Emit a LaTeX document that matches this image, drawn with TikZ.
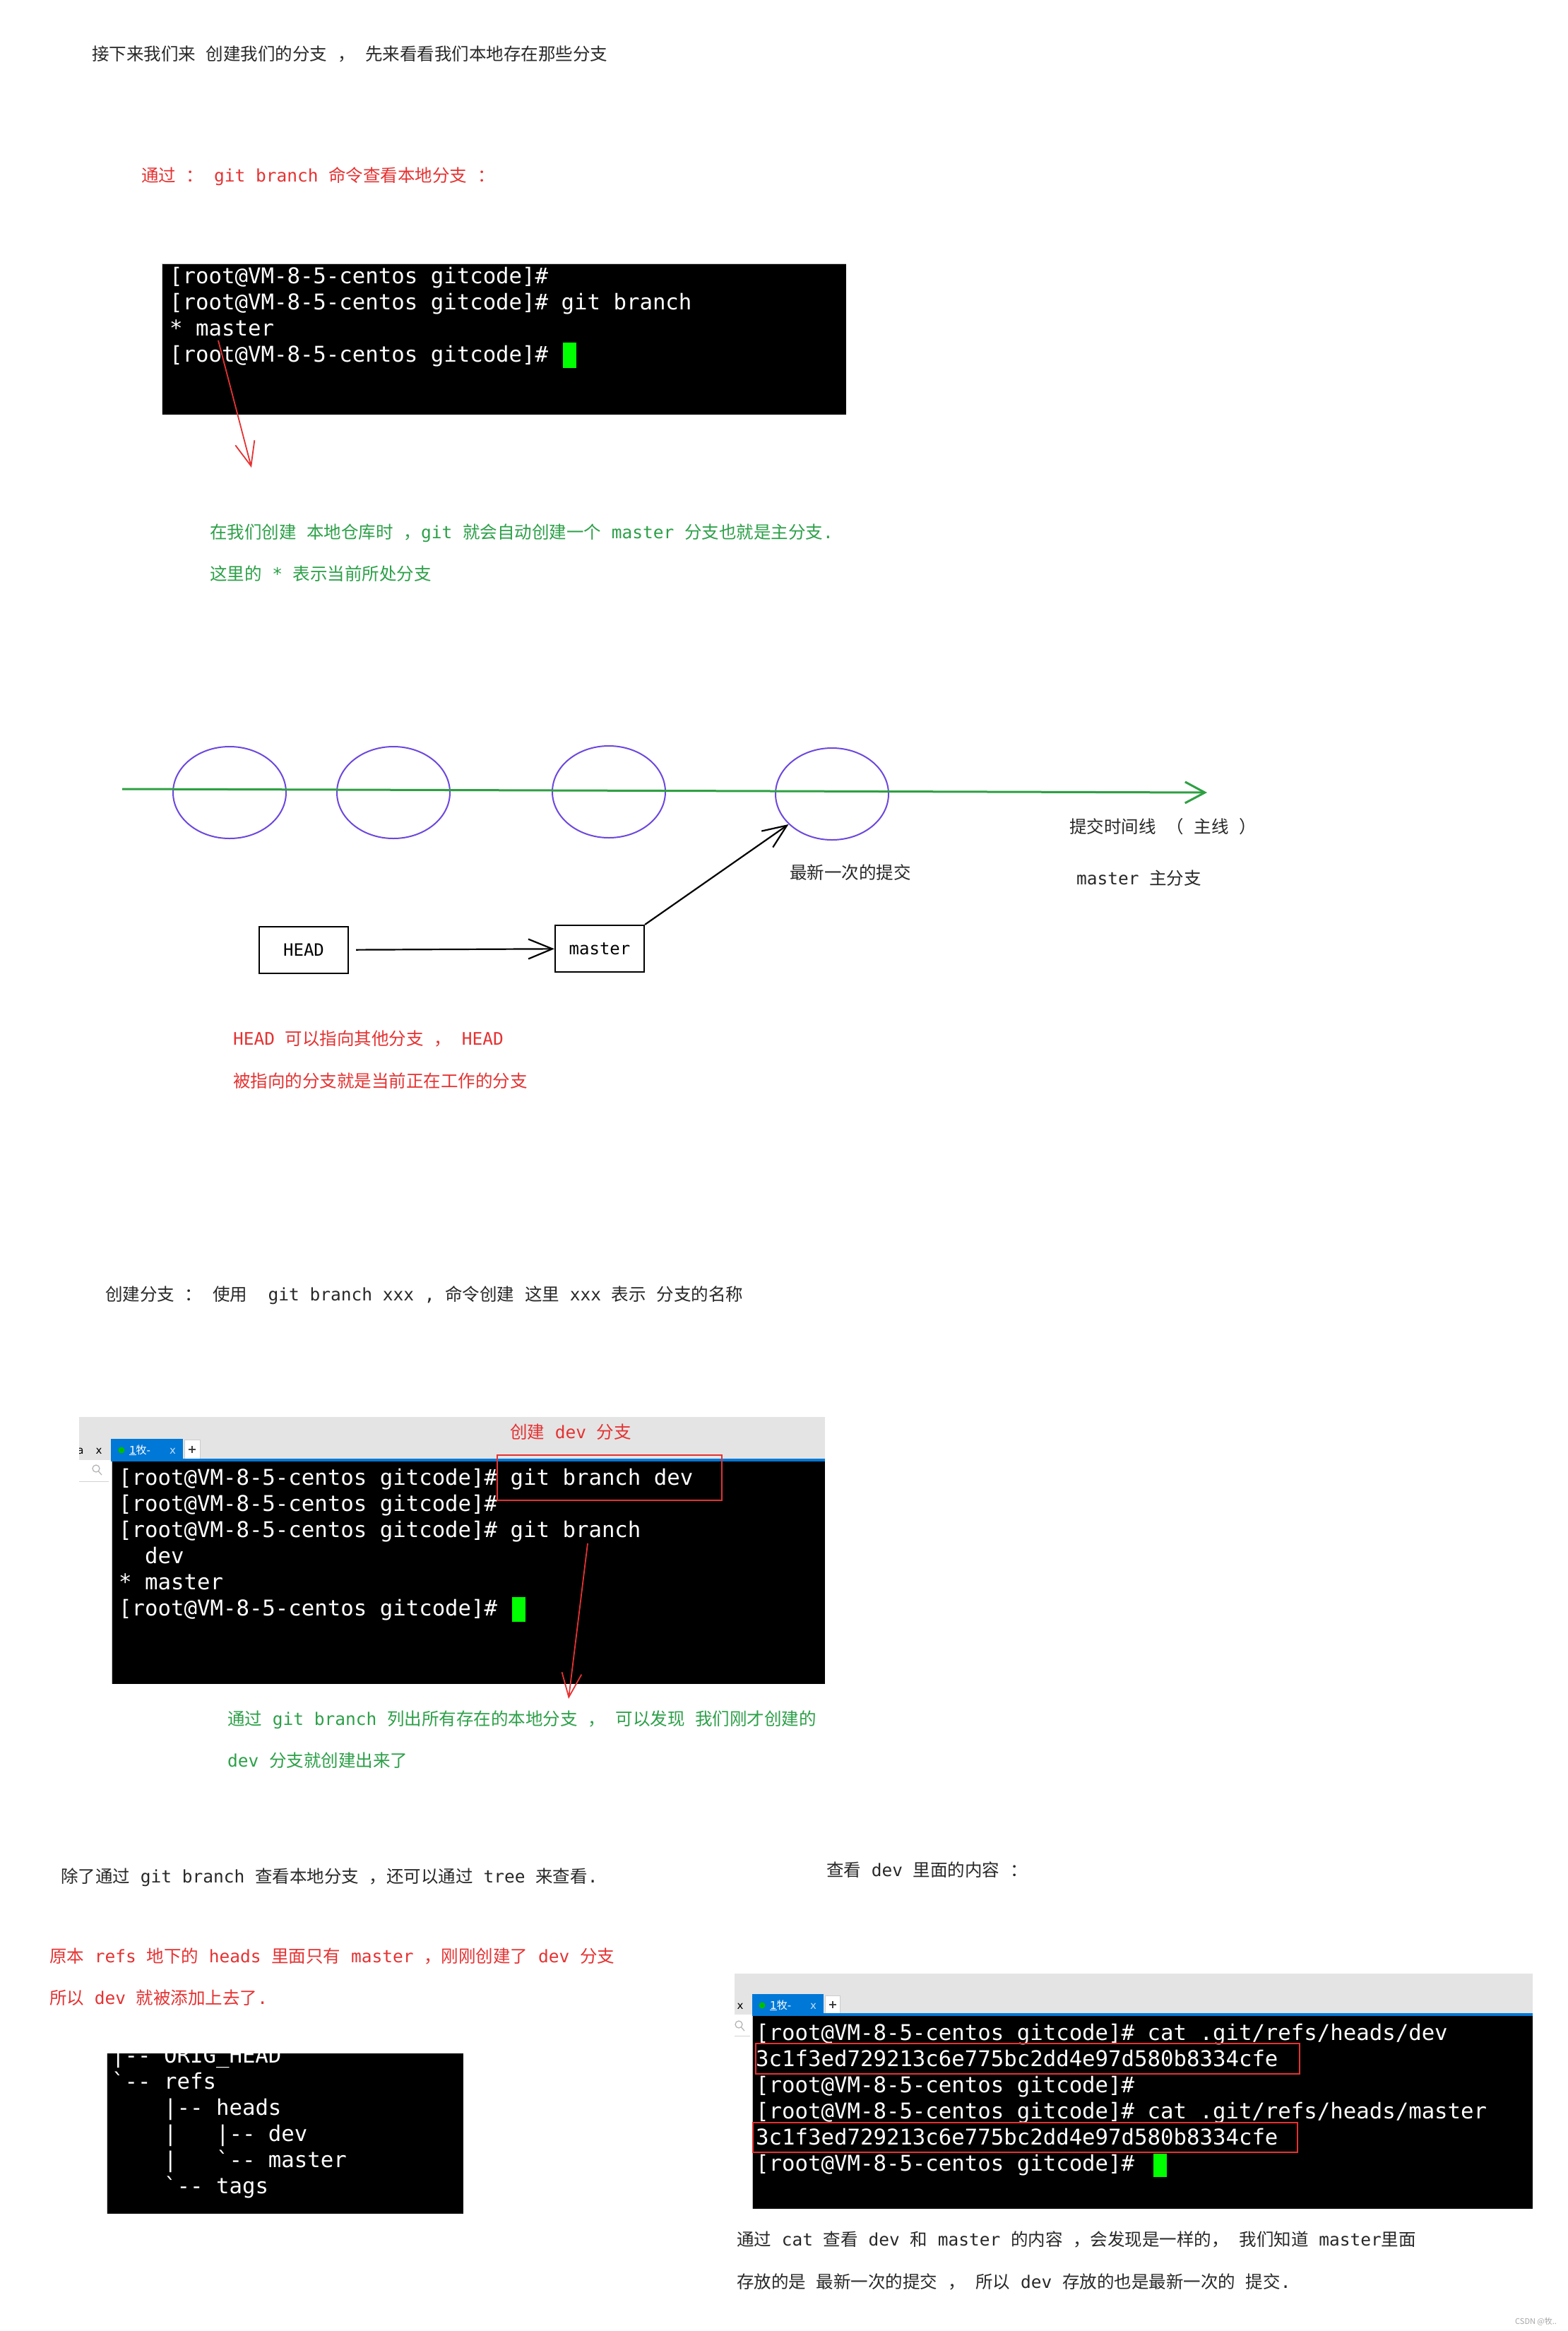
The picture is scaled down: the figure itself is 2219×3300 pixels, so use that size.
\documentclass[tikz,border=0pt]{standalone}
\usepackage{fontspec}
\setmainfont{DejaVu Sans Mono}[Ligatures=TeXOff]
\newfontfamily\cjkf{Noto Sans CJK SC}
\newfontfamily\uif{DejaVu Sans}
\usetikzlibrary{shapes.geometric,arrows.meta}
\newcommand\C[1]{{\cjkf #1}}
\definecolor{tred}{RGB}{229,50,50}
\definecolor{tgreen}{RGB}{44,160,72}
\definecolor{tdark}{RGB}{40,40,40}
\definecolor{purp}{RGB}{108,72,222}
\definecolor{lgreen}{RGB}{46,160,67}
\definecolor{curs}{RGB}{0,255,0}
\definecolor{tabblue}{RGB}{0,120,215}
\definecolor{barg}{RGB}{228,228,228}
\tikzset{
  ann/.style={anchor=base west, inner sep=0pt, font=\fontsize{24.5}{30}\selectfont},
  dark/.style={ann, text=tdark},
  redt/.style={ann, text=tred},
  greent/.style={ann, text=tgreen},
  term/.style={anchor=base west, inner sep=0pt, text=white, font=\fontsize{30.7}{37}\selectfont},
  ptr/.style={draw=black, line width=2.2pt, minimum width=126pt, minimum height=66pt, inner sep=0pt, font=\fontsize{24}{28}\selectfont},
  commit/.style={ellipse, draw=purp, line width=2pt, minimum width=160pt, minimum height=130pt, inner sep=0pt},
  redarrow/.style={draw=tred, line width=1.8pt, -{Straight Barb[length=34pt,width=28pt]}},
  blackarrow/.style={draw=black, line width=2.2pt, -{Straight Barb[length=34pt,width=28pt]}},
  redbox/.style={draw=tred, line width=2.5pt},
  tabtxt/.style={inner sep=0pt, anchor=base west, text=white, font=\uif\fontsize{15}{18}\selectfont},
}
\begin{document}
\begin{tikzpicture}[x=1pt,y=-1pt]
\useasboundingbox (0,0) rectangle (2219,3300);
\fill[white] (0,0) rectangle (2219,3300);

% ---------- top text ----------
\node[dark] (t1) at (130,85) {\C{接下来我们来} \C{创建我们的分支} \C{，} \C{先来看看我们本地存在那些分支}};
\node[redt] (t2) at (200,257) {\C{通过} \C{：} git branch \C{命令查看本地分支} \C{：}};

% ---------- terminal 1 ----------
\fill[black] (229,373) rectangle (1198,587);
\draw[gray!40, line width=1pt] (229,587) -- (229,373) -- (1198,373);
\node[term] (k1a) at (240,401.5) {[root@VM-8-5-centos gitcode]\#};
\node[term] (k1b) at (240,438.5) {[root@VM-8-5-centos gitcode]\# git branch};
\node[term] (k1c) at (240,475.5) {* master};
\node[term] (k1d) at (240,512.5) {[root@VM-8-5-centos gitcode]\#};
\fill[curs] (797,485) rectangle (816,521);
\coordinate (r1s) at (309,482);
\coordinate (r1e) at (356,662);
\draw[redarrow] (r1s) -- (r1e);

\node[greent] (g1) at (297,762) {\C{在我们创建} \C{本地仓库时} \C{，}git \C{就会自动创建一个} master \C{分支也就是主分支}.};
\node[greent] (g2) at (297,821) {\C{这里的} * \C{表示当前所处分支}};

% ---------- commit diagram ----------
\coordinate (tls) at (173,1117);
\coordinate (tle) at (1709,1122);
\node[commit] (e1) at (325,1122) {};
\node[commit] (e2) at (557,1122) {};
\node[commit] (e3) at (862,1121) {};
\node[commit] (e4) at (1178,1124) {};
\draw[lgreen, line width=3pt, -{Straight Barb[length=28pt,width=30pt]}] (tls) -- (tle);

\node[dark] (lb1) at (1514,1179) {\C{提交时间线} \C{（} \C{主线} \C{）}};
\node[dark] (lb2) at (1118,1244) {\C{最新一次的提交}};
\node[dark] (lb3) at (1524,1252) {master \C{主分支}};

\node[ptr] (head) at (430,1345) {HEAD};
\node[ptr] (master) at (849,1343) {master};
\draw[blackarrow, shorten <=10pt] (head) -- (master);
\draw[blackarrow] (master.north east) -- (e4);

\node[redt] (h1) at (330,1479) {HEAD \C{可以指向其他分支} \C{，} HEAD};
\node[redt] (h2) at (330,1539) {\C{被指向的分支就是当前正在工作的分支}};

% ---------- create branch ----------
\node[dark] (cb) at (149,1841) {\C{创建分支} \C{：} \C{使用}\ \ git branch xxx , \C{命令创建} \C{这里} xxx \C{表示} \C{分支的名称}};

% ---------- terminal 2 ----------
\fill[barg] (112,2006) rectangle (1168,2067);
\fill[white] (112,2067) rectangle (157,2384);
\draw[gray!35, line width=1pt] (112,2097) -- (154,2097);
\draw[gray!60, line width=1.2pt] (136,2079) circle (5pt) (139.5,2083) -- (144,2088);
\node[inner sep=0pt, anchor=base, font=\uif\fontsize{15}{18}\selectfont, text=black] (x2) at (140,2058) {x};
\begin{scope}
\clip (112,2006) rectangle (130,2067);
\node[inner sep=0pt, anchor=base, font=\uif\fontsize{15}{18}\selectfont, text=black] (a2) at (114,2058) {a};
\end{scope}
\fill[black] (158,2067) rectangle (1168,2384);
\draw[gray!50, line width=1pt] (158,2067) -- (158,2384);
\fill[tabblue] (157,2037) rectangle (259,2068);
\fill[tabblue] (157,2065) rectangle (1168,2069);
\fill[white] (261,2038) rectangle (283,2065);
\draw[gray!40, line width=0.8pt] (261,2065) -- (261,2038) -- (283,2038) -- (283,2065);
\node[inner sep=0pt, font=\uif\bfseries\fontsize{16}{18}\selectfont, text=black!80] (p2) at (272,2052) {+};
\fill[green!75!black] (172,2053) circle (4.5pt);
\node[tabtxt] (tb2) at (183,2058) {\underline{1}\C{牧}-};
\node[tabtxt, text=white!75!tabblue] (tx2) at (240,2058) {x};

\node[redt] (cd) at (722,2036) {\C{创建} dev \C{分支}};
\node[term] (k2a) at (168,2102.5) {[root@VM-8-5-centos gitcode]\# git branch dev};
\node[term] (k2b) at (168,2139.5) {[root@VM-8-5-centos gitcode]\#};
\node[term] (k2c) at (168,2176.5) {[root@VM-8-5-centos gitcode]\# git branch};
\node[term] (k2d) at (168,2213.5) {\ \ dev};
\node[term] (k2e) at (168,2250.5) {* master};
\node[term] (k2f) at (168,2287.5) {[root@VM-8-5-centos gitcode]\#};
\fill[curs] (725,2261) rectangle (744,2296);
\draw[redbox] (704,2060) rectangle (1022,2124);
\coordinate (r2s) at (832,2185);
\coordinate (r2e) at (805,2405);
\draw[redarrow] (r2s) -- (r2e);

\node[greent] (g3) at (322,2442) {\C{通过} git branch \C{列出所有存在的本地分支} \C{，} \C{可以发现} \C{我们刚才创建的}};
\node[greent] (g4) at (322,2501) {dev \C{分支就创建出来了}};

% ---------- tree ----------
\node[dark] (tr1) at (86,2665) {\C{除了通过} git branch \C{查看本地分支} \C{，还可以通过} tree \C{来查看}.};
\node[redt] (tr2) at (70,2778) {\C{原本} refs \C{地下的} heads \C{里面只有} master \C{，刚刚创建了} dev \C{分支}};
\node[redt] (tr3) at (70,2837) {\C{所以} dev \C{就被添加上去了}.};

\fill[black] (151,2907) rectangle (656,3134);
\draw[gray!40, line width=1pt] (151,2907) -- (151,3134);
\begin{scope}
\clip (151,2907) rectangle (656,3134);
\node[term] (k3a) at (158,2920.5) {|-- ORIG\_HEAD};
\end{scope}
\node[term] (k3b) at (158,2957.5) {`-- refs};
\node[term] (k3c) at (158,2994.5) {\ \ \ \ |-- heads};
\node[term] (k3d) at (158,3031.5) {\ \ \ \ |\ \ \ |-- dev};
\node[term] (k3e) at (158,3068.5) {\ \ \ \ |\ \ \ `-- master};
\node[term] (k3f) at (158,3105.5) {\ \ \ \ `-- tags};

% ---------- terminal 3 ----------
\node[dark] (cv) at (1170,2656) {\C{查看} dev \C{里面的内容} \C{：}};
\fill[barg] (1040,2794) rectangle (2170,2852);
\fill[white] (1040,2852) rectangle (1064,3127);
\draw[gray!35, line width=1pt] (1040,2882) -- (1062,2882);
\draw[gray!60, line width=1.2pt] (1046,2866) circle (5pt) (1049.5,2870) -- (1054,2875);
\node[inner sep=0pt, anchor=base, font=\uif\fontsize{15}{18}\selectfont, text=black] (x3) at (1048,2844) {x};
\fill[black] (1065,2852) rectangle (2170,3127);
\draw[gray!50, line width=1pt] (1065,2852) -- (1065,3127);
\fill[tabblue] (1065,2823) rectangle (1166,2853);
\fill[tabblue] (1065,2850) rectangle (2170,2854);
\fill[white] (1168,2825) rectangle (1189,2850);
\draw[gray!40, line width=0.8pt] (1168,2850) -- (1168,2825) -- (1189,2825) -- (1189,2850);
\node[inner sep=0pt, font=\uif\bfseries\fontsize{16}{18}\selectfont, text=black!80] (p3) at (1179,2838) {+};
\fill[green!75!black] (1079,2839) circle (4.5pt);
\node[tabtxt] (tb3) at (1090,2844) {\underline{1}\C{牧}-};
\node[tabtxt, text=white!75!tabblue] (tx3) at (1147,2844) {x};

\node[term] (k4a) at (1070,2888.5) {[root@VM-8-5-centos gitcode]\# cat .git/refs/heads/dev};
\node[term] (k4b) at (1070,2925.5) {3c1f3ed729213c6e775bc2dd4e97d580b8334cfe};
\node[term] (k4c) at (1070,2962.5) {[root@VM-8-5-centos gitcode]\#};
\node[term] (k4d) at (1070,2999.5) {[root@VM-8-5-centos gitcode]\# cat .git/refs/heads/master};
\node[term] (k4e) at (1070,3036.5) {3c1f3ed729213c6e775bc2dd4e97d580b8334cfe};
\node[term] (k4f) at (1070,3073.5) {[root@VM-8-5-centos gitcode]\#};
\fill[curs] (1633,3049) rectangle (1652,3082);
\draw[redbox] (1070,2893) rectangle (1840,2936);
\draw[redbox] (1066,3005) rectangle (1837,3047);

\node[dark] (f1) at (1043,3179) {\C{通过} cat \C{查看} dev \C{和} master \C{的内容} \C{，会发现是一样的，} \C{我们知道} master\C{里面}};
\node[dark] (f2) at (1043,3239) {\C{存放的是} \C{最新一次的提交} \C{，} \C{所以} dev \C{存放的也是最新一次的} \C{提交}.};
\node[inner sep=0pt, anchor=base west, text=gray!70, font=\cjkf\fontsize{11}{13}\selectfont] (wm) at (2145,3290) {CSDN @牧..};
\end{tikzpicture}
\end{document}
